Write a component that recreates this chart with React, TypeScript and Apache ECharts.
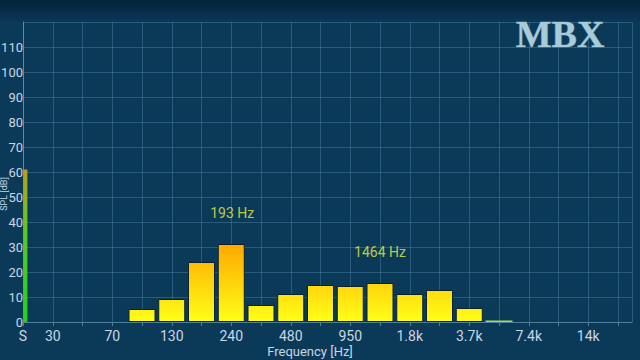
import React, { useEffect, useRef } from "react";
import * as echarts from "echarts";

// x positions are band indices (0 = "S", 1 = 30 Hz, ... 20)
const tickLabels: Record<number, string> = {
  0: "S", 1: "30", 3: "70", 5: "130", 7: "240", 9: "480",
  11: "950", 13: "1.8k", 15: "3.7k", 17: "7.4k", 19: "14k",
};
const bandIndex = [4, 5, 6, 7, 8, 9, 10, 11, 12, 13, 14, 15, 16];
const bandValues = [5.2, 9.2, 24, 31.2, 6.8, 11.2, 14.8, 14.4, 15.6, 11.2, 12.8, 5.6, 0.6];
const sumIndex = 0.08;
const sumValue = 61;
const peakLabels = ["193 Hz", "1464 Hz"];
const peakX = [7.03, 12];
const peakY = [43.6, 28];

export default function App() {
  const ref = useRef<HTMLDivElement>(null);
  useEffect(() => {
    const chart = echarts.init(ref.current!, null, { renderer: "svg" });
    const barGrad = new echarts.graphic.LinearGradient(0, 322, 0, 244, [
      { offset: 0, color: "#ffff18" },
      { offset: 1, color: "#ffa800" },
    ], true);
    const sumGrad = new echarts.graphic.LinearGradient(0, 322, 0, 169, [
      { offset: 0, color: "#1ed41e" },
      { offset: 0.6, color: "#5cc828" },
      { offset: 1, color: "#b8a020" },
    ], true);
    const xBase = { type: "value", min: 0, max: 20.47, interval: 1 };
    chart.setOption({
      animation: false,
      backgroundColor: "#0b3a59",
      graphic: [
        {
          type: "rect", left: 0, top: 0, z: -1,
          shape: { width: 640, height: 22 },
          style: {
            fill: new echarts.graphic.LinearGradient(0, 0, 0, 1, [
              { offset: 0, color: "#032339" },
              { offset: 1, color: "#0a3857" },
            ]),
          },
        },
        {
          type: "text", x: 560, y: 34, z: 10,
          style: {
            text: "MBX", fill: "#a9cad9", stroke: "#4a7a92", lineWidth: 1,
            font: "bold 38px 'Liberation Serif', serif",
            align: "center", verticalAlign: "middle",
          },
        },
        {
          type: "text", x: 4, y: 194, rotation: Math.PI / 2, z: 10,
          style: {
            text: "SPL [dB]", fill: "#c9d6e3",
            font: "9px Roboto, sans-serif",
            align: "center", verticalAlign: "middle",
          },
        },
        {
          type: "text", x: 310, y: 351, z: 10,
          style: {
            text: "Frequency [Hz]", fill: "#c9d6e3",
            font: "13px Roboto, sans-serif",
            align: "center", verticalAlign: "middle",
          },
        },
      ],
      grid: { left: 23, right: 8, top: 22, bottom: 38, outerBoundsMode: "none", containLabel: false },
      xAxis: [
        {
          ...xBase,
          axisLine: { show: true, onZero: false, lineStyle: { color: "#4f7f9c", width: 1 } },
          axisTick: { show: true, length: 4, lineStyle: { color: "#4f7f9c" } },
          splitLine: { show: true, lineStyle: { color: "rgba(110,170,205,0.3)", width: 1 } },
          axisLabel: {
            color: "#c9d6e3", fontSize: 14, fontFamily: "Roboto, sans-serif", margin: 7,
            showMaxLabel: false,
            formatter: (v: number) => tickLabels[Math.round(v)] ?? "",
          },
        },
        { ...xBase, show: false },
      ],
      yAxis: {
        type: "value", min: 0, max: 120, interval: 10,
        axisLine: { show: true, lineStyle: { color: "#5a8cab", width: 1 } },
        axisTick: { show: false },
        splitLine: { show: true, lineStyle: { color: "rgba(110,170,205,0.3)", width: 1 } },
        axisLabel: {
          color: "#c9d6e3", fontSize: 13, fontFamily: "Roboto, sans-serif", margin: 0,
          padding: [0, 0, 10, 0],
          formatter: (v: number) => (v >= 120 ? "" : String(v)),
        },
      },
      series: [
        {
          type: "bar",
          xAxisIndex: 0,
          barWidth: 27,
          data: bandIndex.map((x, i) =>
            bandValues[i] < 1
              ? { value: [x, bandValues[i]], itemStyle: { color: "#a6e23a", borderColor: "#a6e23a", borderWidth: 0 } }
              : { value: [x, bandValues[i]] }
          ),
          itemStyle: {
            color: barGrad,
            borderColor: "#0a2232",
            borderWidth: 1,
          },
        },
        {
          type: "bar",
          xAxisIndex: 1,
          barWidth: 4,
          data: [[sumIndex, sumValue]],
          itemStyle: { color: sumGrad },
        },
        {
          type: "scatter",
          symbolSize: 0,
          data: peakX.map((x, i) => [x, peakY[i], peakLabels[i]]),
          label: {
            show: true, position: "inside",
            formatter: (p: any) => p.value[2],
            color: "#e8f23c", fontSize: 14, fontFamily: "Roboto, sans-serif",
          },
        },
      ],
    });
    return () => chart.dispose();
  }, []);
  return <div ref={ref} style={{ width: 640, height: 360, position: "fixed", left: 0, top: 0 }} />;
}
